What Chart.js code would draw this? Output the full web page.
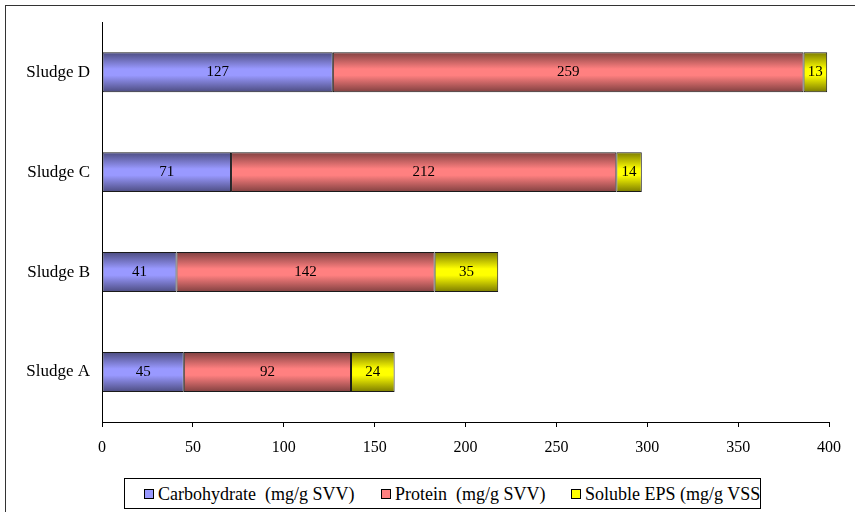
<!DOCTYPE html>
<html>
<head>
<meta charset="utf-8">
<script src="https://cdn.jsdelivr.net/npm/chart.js@4/dist/chart.umd.min.js"></script>
<style>
  html, body { margin: 0; padding: 0; background: #fff; }
  #wrap { position: relative; width: 855px; height: 512px; overflow: hidden; }
  #frame { position: absolute; left: 5px; top: 5px; width: 900px; height: 600px;
           border-left: 1px solid #333; border-top: 1px solid #333; }
  canvas { position: absolute; left: 0; top: 0; }
  #legend { position: absolute; left: 124px; top: 478px; width: 637px; height: 31px;
            border: 1px solid #000; background: #fff; overflow: hidden; box-sizing: border-box;
            font-family: "Liberation Serif", "Times New Roman", serif; font-size: 18px; color: #000; }
  .item { position: absolute; top: 5px; white-space: pre; line-height: 20px; }
  .sw { display: inline-block; width: 8px; height: 8px; border: 1px solid #000; margin-right: 4px; vertical-align: 1px; }
</style>
</head>
<body>
<div id="wrap">
  <div id="frame"></div>
  <canvas id="c" width="855" height="512"></canvas>
  <div id="legend"></div>
</div>
<script>
// Sample categories (bottom to top on the chart)
const categories = ['Sludge A', 'Sludge B', 'Sludge C', 'Sludge D'];
// EPS fractions per sludge
const carbohydrate = [45, 41, 71, 127];
const protein = [92, 142, 212, 259];
const solubleEps = [24, 35, 14, 13];
const seriesLabels = ['Carbohydrate  (mg/g SVV)', 'Protein  (mg/g SVV)', 'Soluble EPS (mg/g VSS'];
const xTicks = [0, 50, 100, 150, 200, 250, 300, 350, 400];

const serif = '"Liberation Serif", "Times New Roman", serif';

// Cylinder-like vertical shading for each bar segment
function shaded(base, dark) {
  return (ctx) => {
    const chart = ctx.chart;
    const y = chart.scales && chart.scales.y;
    if (!y || ctx.type !== 'data' || !chart.chartArea) return base;
    const c = y.getPixelForValue(ctx.dataIndex);
    const half = 20;
    const g = chart.ctx.createLinearGradient(0, c - half, 0, c + half);
    g.addColorStop(0, dark);
    g.addColorStop(0.42, base);
    g.addColorStop(0.58, base);
    g.addColorStop(1, dark);
    return g;
  };
}

// Value written in the middle of every segment
const valueLabels = {
  id: 'valueLabels',
  afterDatasetsDraw(chart) {
    const ctx = chart.ctx;
    ctx.save();
    ctx.font = '15px ' + serif;
    ctx.fillStyle = '#000';
    ctx.textAlign = 'center';
    ctx.textBaseline = 'middle';
    chart.data.datasets.forEach((ds, di) => {
      chart.getDatasetMeta(di).data.forEach((el, i) => {
        const p = el.getCenterPoint();
        ctx.fillText(String(ds.data[i]), p.x, p.y);
      });
    });
    ctx.restore();
  }
};

const colors = [
  { base: '#9999ff', dark: '#4c4c80' },
  { base: '#ff8080', dark: '#804040' },
  { base: '#ffff00', dark: '#7a7a00' }
];
const values = [carbohydrate, protein, solubleEps];

const chart = new Chart(document.getElementById('c'), {
  type: 'bar',
  data: {
    labels: categories,
    datasets: values.map((v, i) => ({
      label: seriesLabels[i],
      data: v,
      backgroundColor: shaded(colors[i].base, colors[i].dark),
      borderColor: '#1a1a1a',
      borderWidth: 1,
      borderSkipped: false,
      barPercentage: 0.8,
      categoryPercentage: 0.5
    }))
  },
  plugins: [valueLabels],
  options: {
    indexAxis: 'y',
    responsive: false,
    animation: false,
    layout: { padding: { left: 0, top: 20, right: 26, bottom: 0 } },
    plugins: { legend: { display: false }, tooltip: { enabled: false } },
    scales: {
      x: {
        stacked: true,
        min: 0,
        max: 400,
        afterBuildTicks: (s) => { s.ticks = xTicks.map(v => ({ value: v })); },
        afterFit: (s) => { s.height = 90; },
        grid: { display: true, drawOnChartArea: false, drawTicks: true, tickLength: 5, color: '#000' },
        border: { display: true, color: '#000', width: 1 },
        ticks: { color: '#000', font: { family: serif, size: 16 }, padding: 11, maxRotation: 0 }
      },
      y: {
        stacked: true,
        reverse: true,
        afterFit: (s) => { s.width = 102; },
        grid: { display: false, drawTicks: false },
        border: { display: true, color: '#000', width: 1 },
        ticks: { color: '#000', font: { family: serif, size: 17 }, padding: 12 }
      }
    }
  }
});

// Boxed legend under the axis
const legend = document.getElementById('legend');
const itemLeft = [19, 256, 446];
chart.data.datasets.forEach((ds, i) => {
  const it = document.createElement('div');
  it.className = 'item';
  it.style.left = itemLeft[i] + 'px';
  const sw = document.createElement('span');
  sw.className = 'sw';
  sw.style.background = colors[i].base;
  it.appendChild(sw);
  it.appendChild(document.createTextNode(ds.label));
  legend.appendChild(it);
});
</script>
</body>
</html>
